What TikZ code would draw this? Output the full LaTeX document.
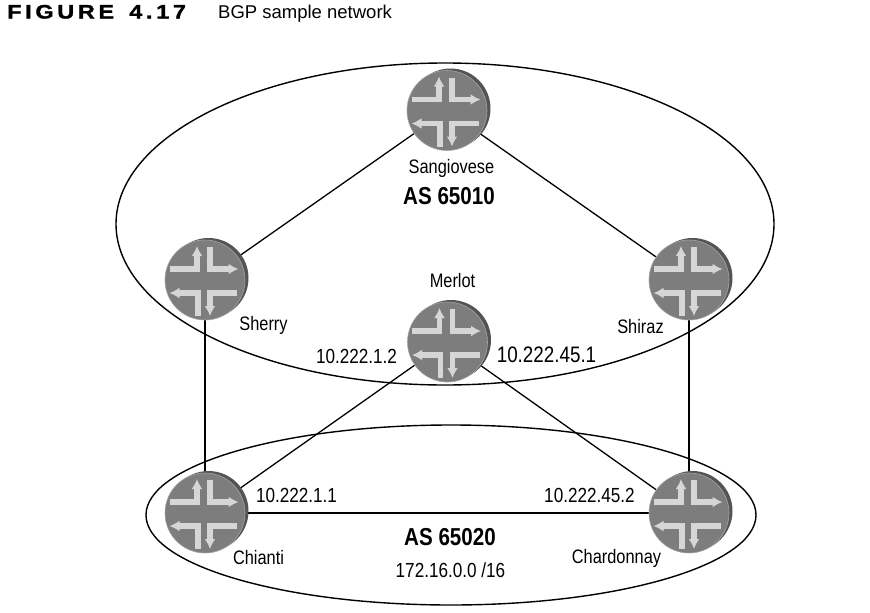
\documentclass[tikz,border=0pt]{standalone}
\usepackage{fontspec}
\setmainfont{Liberation Sans}
\newfontfamily\narrowf[FakeStretch=0.84]{Liberation Sans}
\newfontfamily\figf[FakeStretch=1.2,FakeBold=1.5,LetterSpace=19]{Liberation Sans Bold}
\usetikzlibrary{shapes.geometric,backgrounds,arrows.meta}
\definecolor{rface}{gray}{0.49}
\definecolor{rback}{gray}{0.33}
\definecolor{rarrow}{gray}{0.84}
\tikzset{
  x=1pt,y=-1pt,
  router/.style={circle,draw=rface!70!white,line width=.6pt,fill=rface,minimum size=80pt,inner sep=0pt},
  rbackdisc/.style={circle,fill=rback,minimum size=80pt,inner sep=0pt},
  flow/.style={draw=rarrow,line width=5.6pt,-{Latex[length=10pt,width=11pt,fill=rarrow]}},
  link/.style={draw=black,line width=1.3pt},
  asarea/.style={ellipse,draw=black,line width=1.4pt,inner sep=0pt},
  lbl/.style={font=\narrowf\fontsize{19.5}{22}\selectfont,text=black,inner sep=0pt},
  lblnum/.style={font=\narrowf\fontsize{20.4}{23}\selectfont,text=black,inner sep=0pt},
  lblbig/.style={font=\narrowf\fontsize{22.4}{25}\selectfont,text=black,inner sep=0pt},
  aslbl/.style={font=\narrowf\bfseries\fontsize{24.5}{27}\selectfont,text=black,inner sep=0pt},
  ttl/.style={anchor=base west,inner sep=0pt,text=black}
}
\newcommand{\routerat}[3]{%
  \node[rbackdisc] (#1back) at (#2+3.5,#3-2) {};
  \node[router] (#1) at (#2,#3) {};
  \begin{scope}[shift={(#2,#3)}]
    \draw[flow] (-35.5,-11) -- (-8,-11) -- (-8,-34);
    \draw[flow] (5,-33) -- (5,-11) -- (33.5,-11);
    \draw[flow] (32,13) -- (5,13) -- (5,36);
    \draw[flow] (-7,36) -- (-7,13) -- (-35.5,13);
  \end{scope}}
\begin{document}
\begin{tikzpicture}
\useasboundingbox (0,0) rectangle (870,613);
\node[ttl,font=\figf\fontsize{19.5}{22}\selectfont] (figno) at (7,18.5) {FIGURE\hspace{5pt} 4.17};
\node[ttl,font=\fontsize{18.5}{22}\selectfont] (figttl) at (218,18.5) {BGP sample network};
\node[asarea,minimum width=658pt,minimum height=322pt] (as1) at (445,224) {};
\node[asarea,minimum width=610pt,minimum height=180pt] (as2) at (451,515) {};
\routerat{sang}{447}{110.5}
\routerat{sherry}{205}{280}
\routerat{merlot}{447.5}{342}
\routerat{shiraz}{689}{280}
\routerat{chianti}{205}{513}
\routerat{chard}{689}{513}
\begin{pgfonlayer}{background}
\draw[link] (sang) -- (sherry);
\draw[link] (sang) -- (shiraz);
\draw[link] (sherry) -- (chianti);
\draw[link] (shiraz) -- (chard);
\draw[link] (merlot) -- (chianti);
\draw[link] (merlot) -- (chard);
\draw[link] (chianti) -- (chard);
\end{pgfonlayer}
\node[lbl] (l1) at (451.5,168) {Sangiovese};
\node[aslbl] (l2) at (449,196) {AS 65010};
\node[lbl] (l3) at (263.5,325) {Sherry};
\node[lbl] (l4) at (452.5,281) {Merlot};
\node[lbl] (l5) at (640.5,327) {Shiraz};
\node[lblnum] (l6) at (356.5,356) {10.222.1.2};
\node[lblbig] (l7) at (546.5,355) {10.222.45.1};
\node[lblnum] (l8) at (296.5,495) {10.222.1.1};
\node[lblnum] (l9) at (589.5,495) {10.222.45.2};
\node[aslbl] (l10) at (450,537) {AS 65020};
\node[lbl] (l11) at (258.5,558) {Chianti};
\node[lbl] (l12) at (616.5,558) {Chardonnay};
\node[lblnum] (l13) at (450.5,570) {172.16.0.0 /16};
\end{tikzpicture}
\end{document}
